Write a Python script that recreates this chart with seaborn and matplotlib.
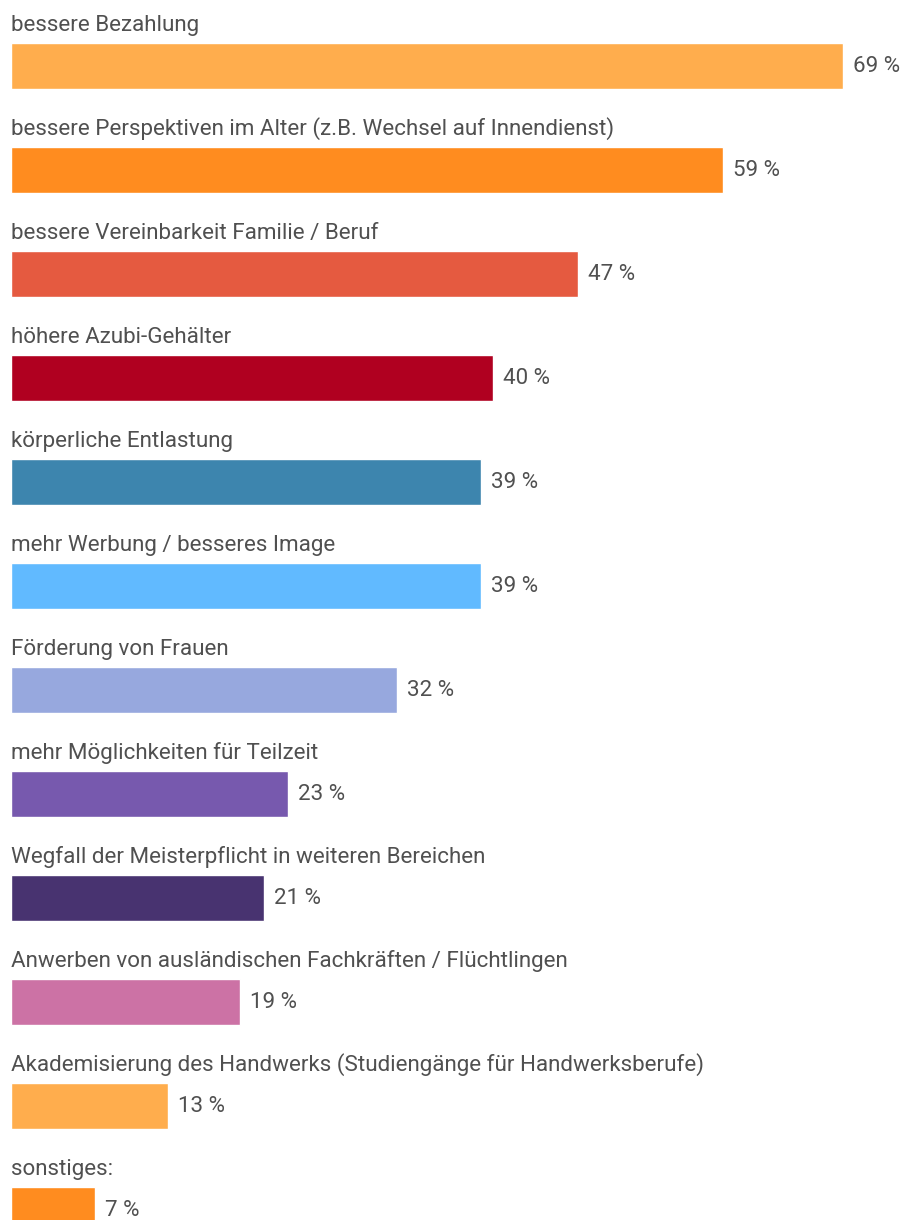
import matplotlib
matplotlib.use("Agg")
import matplotlib.pyplot as plt
import seaborn as sns

# Daten
kategorien = [
    "bessere Bezahlung",
    "bessere Perspektiven im Alter (z.B. Wechsel auf Innendienst)",
    "bessere Vereinbarkeit Familie / Beruf",
    "höhere Azubi-Gehälter",
    "körperliche Entlastung",
    "mehr Werbung / besseres Image",
    "Förderung von Frauen",
    "mehr Möglichkeiten für Teilzeit",
    "Wegfall der Meisterpflicht in weiteren Bereichen",
    "Anwerben von ausländischen Fachkräften / Flüchtlingen",
    "Akademisierung des Handwerks (Studiengänge für Handwerksberufe)",
    "sonstiges:",
]
werte = [69, 59, 47, 40, 39, 39, 32, 23, 21, 19, 13, 7]
farben = [
    "#FFAD4D", "#FF8C1F", "#E55A40", "#B00020", "#3D85AE", "#61BAFF",
    "#97A8DE", "#7759AE", "#483370", "#CC72A5", "#FFAD4D", "#FF8C1F",
]

sns.set_theme(style="white")
plt.rcParams["font.family"] = ["Roboto", "DejaVu Sans"]

fig = plt.figure(figsize=(9.02, 12.2), dpi=100)
ax = fig.add_axes([0, 0, 1, 1])

sns.barplot(x=werte, y=kategorien, hue=kategorien, palette=farben,
            orient="h", width=0.442, legend=False, ax=ax, saturation=1)

px = 12.06  # pixel pro Prozentpunkt
ax.set_xlim(-11 / px, (902 - 11) / px)
ax.set_ylim((1220 - 66) / 104, -66 / 104)

for i, (k, w) in enumerate(zip(kategorien, werte)):
    ax.text(0, i - 0.337, k, ha="left", va="baseline", fontsize=16.1, color="#505050")
    ax.text(w + 10 / px, i + 0.058, f"{w} %", ha="left", va="baseline",
            fontsize=16.1, color="#505050")

ax.set_axis_off()
fig.savefig("out.png", dpi=100)
